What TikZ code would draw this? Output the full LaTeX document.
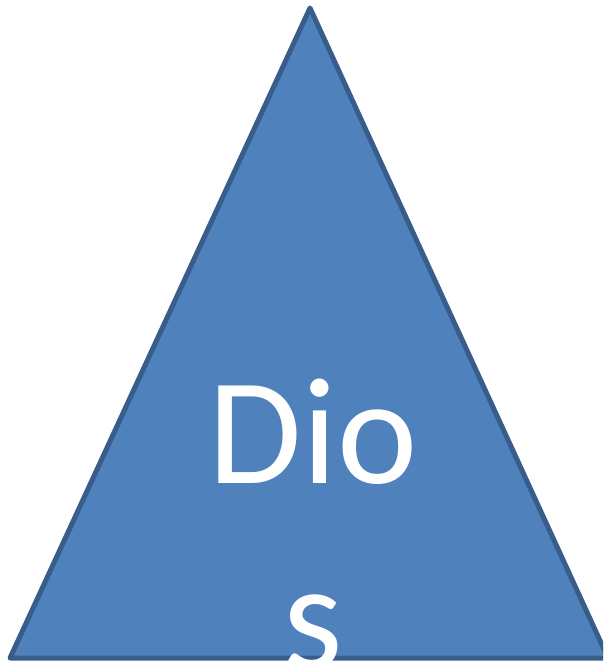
\documentclass[tikz,border=0pt]{standalone}
\usepackage{fontspec}
\setmainfont{Carlito}
\definecolor{trifill}{HTML}{4F81BD}
\definecolor{triedge}{HTML}{385D8A}
\begin{document}
\begin{tikzpicture}[x=1pt,y=-1pt,
  tri/.style={fill=trifill,draw=triedge,line width=5pt,line join=round},
  lbl/.style={text=white,font=\fontsize{152}{185}\selectfont,inner sep=0pt,anchor=base}]
\useasboundingbox (0,0) rectangle (603,663);
\clip (0,0) rectangle (603,663);
\draw[tri] (310,8) -- (608,658) -- (10,658) -- cycle;
\node[lbl] (dio) at (313,483) {Dio};
\node[lbl] (s) at (313,668) {s};
\end{tikzpicture}
\end{document}
